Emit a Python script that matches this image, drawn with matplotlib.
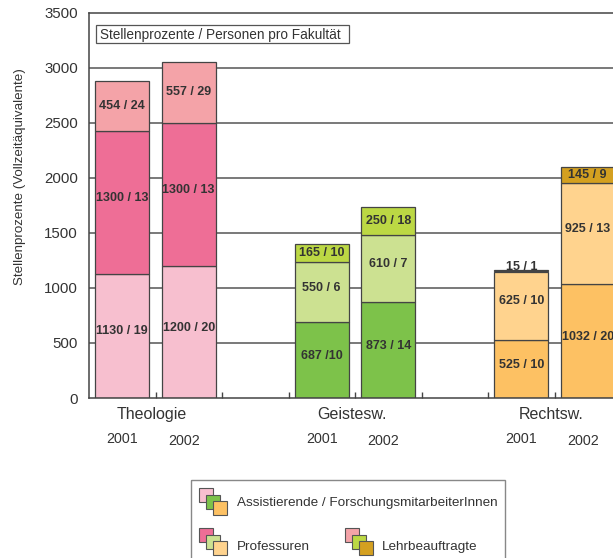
import numpy as np
import matplotlib
matplotlib.use("Agg")
import matplotlib.pyplot as plt
from matplotlib.patches import Rectangle

plt.rcParams['font.family'] = ['Liberation Sans', 'DejaVu Sans']

# --------------------------------------------------
# Data
# --------------------------------------------------
faculties = ["Theologie", "Geistesw.", "Rechtsw."]
years = ["2001", "2002"]

# stellenprozente per year, order: Theologie 01/02, Geistesw 01/02, Rechtsw 01/02
assist = [1130, 1200, 687, 873, 525, 1032]
prof = [1300, 1300, 550, 610, 625, 925]
lehr = [454, 557, 165, 250, 15, 145]

assist_lbl = ["1130 / 19", "1200 / 20", "687 /10", "873 / 14", "525 / 10", "1032 / 20"]
prof_lbl = ["1300 / 13", "1300 / 13", "550 / 6", "610 / 7", "625 / 10", "925 / 13"]
lehr_lbl = ["454 / 24", "557 / 29", "165 / 10", "250 / 18", "15 / 1", "145 / 9"]

# colours per faculty: (assistierende, professuren, lehrbeauftragte)
colors = [
    ("#F7BFCF", "#EE6E96", "#F4A3A8"),
    ("#7DC24A", "#CCE191", "#BCD844"),
    ("#FDC163", "#FFD38E", "#D4A020"),
]

# --------------------------------------------------
# Figure layout (pixel based)
# --------------------------------------------------
W, H = 613, 558
fig = plt.figure(figsize=(W / 100, H / 100), dpi=100)

ax_left, ax_top, ax_bottom = 89, 13, 398
slot = 66.5
n_slots = 9
ax = fig.add_axes([ax_left / W, 1 - ax_bottom / H,
                   slot * n_slots / W, (ax_bottom - ax_top) / H])

ax.set_xlim(0, n_slots)
ax.set_ylim(0, 3500)

edge = "#444444"
txt = "#333333"

for y in range(500, 3500, 500):
    ax.axhline(y, color="#555555", lw=1.1, zorder=0)

xpos = []
for g in range(len(faculties)):
    xpos += [g * 3 + 0.5, g * 3 + 1.5]

bw = 54 / slot
for i, x in enumerate(xpos):
    c = colors[i // 2]
    b1 = assist[i]
    b2 = b1 + prof[i]
    ax.bar(x, assist[i], bw, color=c[0], edgecolor=edge, lw=0.9, zorder=2)
    ax.bar(x, prof[i], bw, bottom=b1, color=c[1], edgecolor=edge, lw=0.9, zorder=2)
    ax.bar(x, lehr[i], bw, bottom=b2, color=c[2], edgecolor=edge, lw=0.9, zorder=2)

    kw = dict(ha="center", va="center", fontsize=9, fontweight="bold", color=txt, zorder=3)
    ax.text(x, b1 / 2 + 40, assist_lbl[i], **kw)
    ax.text(x, b1 + prof[i] / 2 + 40, prof_lbl[i], **kw)
    if lehr[i] < 80:
        ax.text(x, b2 + lehr[i] + 25, lehr_lbl[i], **kw)
    else:
        ax.text(x, b2 + lehr[i] / 2, lehr_lbl[i], **kw)

# spines and ticks
for s in ["left", "top", "bottom"]:
    ax.spines[s].set_color(edge)
    ax.spines[s].set_linewidth(1.1)
ax.spines["right"].set_visible(False)

ax.set_yticks(range(0, 3501, 500))
ax.tick_params(axis="y", length=0, pad=8, labelsize=10.8, labelcolor=txt)
ax.set_xticks(np.arange(1, n_slots))
ax.set_xticklabels([])
ax.tick_params(axis="x", direction="in", length=4.5, color=edge, width=1)

# category and year labels
for g, name in enumerate(faculties):
    ax.text(g * 3 + 0.95, -150, name, ha="center", va="center", fontsize=11.5,
            color=txt, clip_on=False)
for i, x in enumerate(xpos):
    ax.text(x - 0.07 * (i % 2), -375 - 15 * (i % 2), years[i % 2],
            ha="center", va="center", fontsize=10.3, color=txt, clip_on=False)

# --------------------------------------------------
# Overlay in pixel coordinates: title box, y label, legend
# --------------------------------------------------
ov = fig.add_axes([0, 0, 1, 1], zorder=5)
ov.set_xlim(0, W)
ov.set_ylim(H, 0)
ov.axis("off")

ov.add_patch(Rectangle((96, 25), 253, 18, fill=False, ec="#555555", lw=0.9))
ov.text(100, 34.5, "Stellenprozente / Personen pro Fakultät", ha="left", va="center",
        fontsize=9.8, color=txt)

ov.text(20, 177, "Stellenprozente (Vollzeitäquivalente)", rotation=90,
        ha="center", va="center", fontsize=9.6, color=txt)

# legend
ov.add_patch(Rectangle((191, 480), 314, 82, fill=False, ec="#888888", lw=1))


def legend_icon(x0, y0, cols):
    for k, c in enumerate(cols):
        ov.add_patch(Rectangle((x0 + 7 * k, y0 + 6.5 * k), 14, 14, fc=c,
                               ec="#555555", lw=0.8, zorder=6 + k))


legend_icon(199, 488, [colors[0][0], colors[1][0], colors[2][0]])
ov.text(237, 503, "Assistierende / ForschungsmitarbeiterInnen", ha="left",
        va="center", fontsize=9.7, color=txt)
legend_icon(199, 528, [colors[0][1], colors[1][1], colors[2][1]])
ov.text(237, 547, "Professuren", ha="left", va="center", fontsize=9.7, color=txt)
legend_icon(345, 528, [colors[0][2], colors[1][2], colors[2][2]])
ov.text(382, 547, "Lehrbeauftragte", ha="left", va="center", fontsize=9.7, color=txt)

fig.savefig("out.png", dpi=100)
